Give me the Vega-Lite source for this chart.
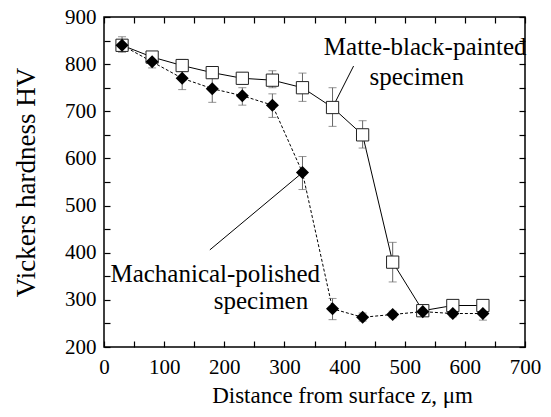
{
  "$schema": "https://vega.github.io/schema/vega-lite/v6.json",
  "width": 421,
  "height": 330,
  "autosize": {"type": "none"},
  "padding": {"left": 104, "top": 17, "right": 26, "bottom": 70},
  "background": "white",
  "config": {
    "view": {"stroke": "black", "strokeWidth": 1.5},
    "font": "Liberation Serif",
    "axis": {
      "domain": false,
      "grid": false,
      "labelFlush": false,
      "labelOverlap": false,
      "tickColor": "black",
      "tickSize": -6,
      "tickWidth": 1.2,
      "labelFont": "Liberation Serif",
      "labelFontSize": 21,
      "labelColor": "black",
      "titleFont": "Liberation Serif",
      "titleFontWeight": "normal",
      "titleColor": "black"
    }
  },
  "datasets": {
    "hv": [
      {"series": "Matte", "z": 30, "hv": 840, "lo": 828, "hi": 852},
      {"series": "Matte", "z": 80, "hv": 815, "lo": 807, "hi": 823},
      {"series": "Matte", "z": 130, "hv": 797, "lo": 785, "hi": 810},
      {"series": "Matte", "z": 180, "hv": 782, "lo": 770, "hi": 795},
      {"series": "Matte", "z": 230, "hv": 770, "lo": 758, "hi": 782},
      {"series": "Matte", "z": 280, "hv": 766, "lo": 750, "hi": 786},
      {"series": "Matte", "z": 330, "hv": 750, "lo": 721, "hi": 781},
      {"series": "Matte", "z": 380, "hv": 708, "lo": 668, "hi": 750},
      {"series": "Matte", "z": 430, "hv": 650, "lo": 622, "hi": 680},
      {"series": "Matte", "z": 480, "hv": 380, "lo": 338, "hi": 422},
      {"series": "Matte", "z": 530, "hv": 277, "lo": 268, "hi": 287},
      {"series": "Matte", "z": 580, "hv": 288, "lo": 280, "hi": 296},
      {"series": "Matte", "z": 630, "hv": 288, "lo": 280, "hi": 296},
      {"series": "Polished", "z": 30, "hv": 840, "lo": 825, "hi": 858},
      {"series": "Polished", "z": 80, "hv": 805, "lo": 792, "hi": 815},
      {"series": "Polished", "z": 130, "hv": 770, "lo": 746, "hi": 792},
      {"series": "Polished", "z": 180, "hv": 748, "lo": 719, "hi": 770},
      {"series": "Polished", "z": 230, "hv": 733, "lo": 713, "hi": 750},
      {"series": "Polished", "z": 280, "hv": 713, "lo": 687, "hi": 737},
      {"series": "Polished", "z": 330, "hv": 570, "lo": 534, "hi": 604},
      {"series": "Polished", "z": 380, "hv": 281, "lo": 258, "hi": 303},
      {"series": "Polished", "z": 430, "hv": 263, "lo": 255, "hi": 272},
      {"series": "Polished", "z": 480, "hv": 269, "lo": 262, "hi": 276},
      {"series": "Polished", "z": 530, "hv": 275, "lo": 268, "hi": 283},
      {"series": "Polished", "z": 580, "hv": 271, "lo": 264, "hi": 278},
      {"series": "Polished", "z": 630, "hv": 271, "lo": 257, "hi": 283}
    ],
    "notes": [
      {"label": "Matte-black-painted", "z": 534, "hv": 836},
      {"label": "specimen", "z": 520, "hv": 773},
      {"label": "Machanical-polished", "z": 185, "hv": 355},
      {"label": "specimen", "z": 261, "hv": 298}
    ],
    "leaders": [
      {"x1": 380, "y1": 708, "x2": 415, "y2": 796},
      {"x1": 330, "y1": 570, "x2": 176, "y2": 406}
    ]
  },
  "layer": [
    {
      "data": {"name": "hv"},
      "transform": [{"filter": "datum.series == 'Matte'"}],
      "mark": {"type": "line", "color": "black", "strokeWidth": 1},
      "encoding": {
        "x": {
          "field": "z", "type": "quantitative",
          "scale": {"domain": [0, 700], "nice": false, "zero": false},
          "axis": {
            "orient": "bottom",
            "values": [0, 50, 100, 150, 200, 250, 300, 350, 400, 450, 500, 550, 600, 650, 700],
            "labelExpr": "datum.value % 100 == 0 ? datum.label : ''",
            "labelPadding": 15,
            "title": "Distance from surface z, μm",
            "titleFontSize": 23,
            "titlePadding": 7,
            "titleX": 238
          }
        },
        "y": {
          "field": "hv", "type": "quantitative",
          "scale": {"domain": [200, 900], "nice": false, "zero": false},
          "axis": {
            "orient": "left",
            "values": [200, 250, 300, 350, 400, 450, 500, 550, 600, 650, 700, 750, 800, 850, 900],
            "labelExpr": "datum.value % 100 == 0 ? datum.label : ''",
            "labelPadding": 14,
            "title": "Vickers hardness HV",
            "titleFontSize": 27,
            "titlePadding": 24
          }
        }
      }
    },
    {
      "data": {"name": "hv"},
      "transform": [{"filter": "datum.series == 'Polished'"}],
      "mark": {"type": "line", "color": "black", "strokeWidth": 1, "strokeDash": [3, 2]},
      "encoding": {
        "x": {
          "field": "z", "type": "quantitative",
          "scale": {"domain": [0, 700], "nice": false, "zero": false},
          "axis": {
            "orient": "top",
            "values": [0, 50, 100, 150, 200, 250, 300, 350, 400, 450, 500, 550, 600, 650, 700],
            "labels": false,
            "title": null
          }
        },
        "y": {
          "field": "hv", "type": "quantitative",
          "scale": {"domain": [200, 900], "nice": false, "zero": false},
          "axis": {
            "orient": "right",
            "values": [200, 250, 300, 350, 400, 450, 500, 550, 600, 650, 700, 750, 800, 850, 900],
            "labels": false,
            "title": null
          }
        }
      }
    },
    {
      "data": {"name": "hv"},
      "mark": {"type": "errorbar", "ticks": {"size": 8, "color": "#666666"}, "rule": {"color": "#666666"}},
      "encoding": {
        "x": {"field": "z", "type": "quantitative", "scale": {"domain": [0, 700], "nice": false, "zero": false}, "axis": null},
        "y": {"field": "lo", "type": "quantitative", "scale": {"domain": [200, 900], "nice": false, "zero": false}, "axis": null},
        "y2": {"field": "hi"}
      }
    },
    {
      "data": {"name": "leaders"},
      "mark": {"type": "rule", "color": "black", "strokeWidth": 1},
      "encoding": {
        "x": {"field": "x1", "type": "quantitative", "scale": {"domain": [0, 700], "nice": false, "zero": false}, "axis": null},
        "y": {"field": "y1", "type": "quantitative", "scale": {"domain": [200, 900], "nice": false, "zero": false}, "axis": null},
        "x2": {"field": "x2"},
        "y2": {"field": "y2"}
      }
    },
    {
      "data": {"name": "hv"},
      "transform": [{"filter": "datum.series == 'Matte'"}],
      "mark": {"type": "point", "shape": "square", "filled": false, "fill": "white", "fillOpacity": 1, "stroke": "#222222", "strokeWidth": 1, "size": 150, "opacity": 1},
      "encoding": {
        "x": {"field": "z", "type": "quantitative", "scale": {"domain": [0, 700], "nice": false, "zero": false}, "axis": null},
        "y": {"field": "hv", "type": "quantitative", "scale": {"domain": [200, 900], "nice": false, "zero": false}, "axis": null}
      }
    },
    {
      "data": {"name": "hv"},
      "transform": [{"filter": "datum.series == 'Polished'"}],
      "mark": {"type": "point", "shape": "diamond", "filled": true, "color": "black", "size": 170, "opacity": 1},
      "encoding": {
        "x": {"field": "z", "type": "quantitative", "scale": {"domain": [0, 700], "nice": false, "zero": false}, "axis": null},
        "y": {"field": "hv", "type": "quantitative", "scale": {"domain": [200, 900], "nice": false, "zero": false}, "axis": null}
      }
    },
    {
      "data": {"name": "notes"},
      "mark": {"type": "text", "font": "Liberation Serif", "fontSize": 25, "color": "black", "align": "center", "baseline": "middle"},
      "encoding": {
        "x": {"field": "z", "type": "quantitative", "scale": {"domain": [0, 700], "nice": false, "zero": false}, "axis": null},
        "y": {"field": "hv", "type": "quantitative", "scale": {"domain": [200, 900], "nice": false, "zero": false}, "axis": null},
        "text": {"field": "label"}
      }
    }
  ],
  "resolve": {"axis": {"x": "independent", "y": "independent"}}
}
